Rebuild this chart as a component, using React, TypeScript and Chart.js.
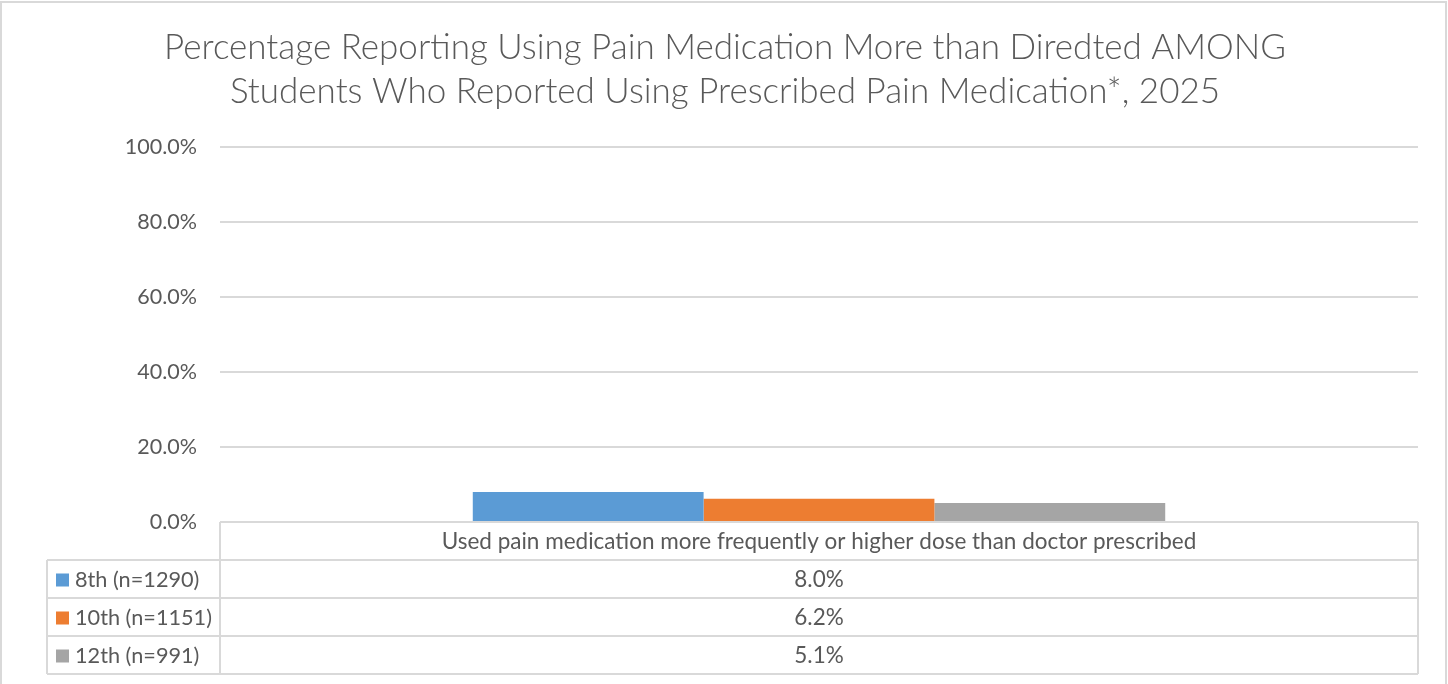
import React, { useEffect, useRef } from "react";
import { Chart, registerables } from "chart.js";

Chart.register(...registerables);

const titleLines = [
  "Percentage Reporting Using Pain Medication More than Diredted AMONG",
  "Students Who Reported Using Prescribed Pain Medication*, 2025",
];
const categories = ["Used pain medication more frequently or higher dose than doctor prescribed"];
const seriesLabels = ["8th (n=1290)", "10th (n=1151)", "12th (n=991)"];
const grade8 = [8.0];
const grade10 = [6.2];
const grade12 = [5.1];
const seriesColors = ["#5B9BD5", "#ED7D31", "#A5A5A5"];
const yTicks = [0, 20, 40, 60, 80, 100];

const FONT = "Lato, 'Open Sans', sans-serif";
const TEXT = "#595959";
const LINE = "#D9D9D9";

const tablePlugin = {
  id: "excelTable",
  afterDraw(chart: any) {
    const { ctx, chartArea } = chart;
    const left = chartArea.left;
    const right = chartArea.right;
    const top = chartArea.bottom;
    const rowH = 38;
    const labelLeft = 47;
    ctx.save();
    // title
    ctx.fillStyle = TEXT;
    ctx.font = `300 35px ${FONT}`;
    ctx.textAlign = "center";
    ctx.textBaseline = "alphabetic";
    const cx = 725;
    ctx.fillText(titleLines[0], cx, 59);
    ctx.fillText(titleLines[1], cx, 103);

    // table lines
    ctx.strokeStyle = LINE;
    ctx.lineWidth = 2;
    ctx.beginPath();
    for (let r = 1; r <= 4; r++) {
      const y = top + r * rowH;
      ctx.moveTo(labelLeft, y);
      ctx.lineTo(right, y);
    }
    ctx.moveTo(left, top);
    ctx.lineTo(left, top + 4 * rowH);
    ctx.moveTo(right, top);
    ctx.lineTo(right, top + 4 * rowH);
    ctx.moveTo(labelLeft, top + rowH);
    ctx.lineTo(labelLeft, top + 4 * rowH);
    ctx.stroke();

    // header
    const xScale = chart.scales.x;
    ctx.font = `22.5px ${FONT}`;
    ctx.fillStyle = TEXT;
    ctx.textBaseline = "middle";
    ctx.textAlign = "center";
    categories.forEach((c, i) => {
      const x = xScale.getPixelForValue(i);
      ctx.fillText(c, x, top + rowH / 2 + 1);
    });
    const values = [grade8, grade10, grade12];
    seriesLabels.forEach((lab, s) => {
      const yMid = top + rowH * (s + 1) + rowH / 2 + 1;
      ctx.fillStyle = seriesColors[s];
      ctx.fillRect(56, yMid - 6.5, 13, 13);
      ctx.fillStyle = TEXT;
      ctx.textAlign = "left";
      ctx.font = `21.7px ${FONT}`;
      ctx.fillText(lab, 75, yMid);
      ctx.textAlign = "center";
      ctx.font = `22.5px ${FONT}`;
      values[s].forEach((v, i) => {
        ctx.fillText(v.toFixed(1) + "%", xScale.getPixelForValue(i), yMid);
      });
    });

    // outer border
    ctx.strokeStyle = LINE;
    ctx.lineWidth = 2;
    ctx.strokeRect(1, 2, chart.width - 3, chart.height + 10);
    ctx.restore();
  },
};

export default function App() {
  const ref = useRef<HTMLCanvasElement>(null);
  useEffect(() => {
    document.body.style.margin = "0";
    const chart = new Chart(ref.current!, {
      type: "bar",
      data: {
        labels: categories,
        datasets: [
          { label: seriesLabels[0], data: grade8, backgroundColor: seriesColors[0] },
          { label: seriesLabels[1], data: grade10, backgroundColor: seriesColors[1] },
          { label: seriesLabels[2], data: grade12, backgroundColor: seriesColors[2] },
        ],
      },
      options: {
        animation: false,
        responsive: false,
        maintainAspectRatio: false,
        layout: { padding: { left: 0, right: 30, top: 147, bottom: 162 } },
        plugins: { legend: { display: false }, title: { display: false }, tooltip: { enabled: false } },
        datasets: { bar: { barPercentage: 1, categoryPercentage: 0.578 } },
        scales: {
          x: { display: false, grid: { display: false } },
          y: {
            min: 0,
            max: 100,
            afterFit: (s: any) => {
              s.width = 220;
            },
            afterBuildTicks: (s: any) => {
              s.ticks = yTicks.map((v) => ({ value: v }));
            },
            border: { display: false },
            grid: { color: LINE, lineWidth: 2, drawTicks: false },
            ticks: {
              color: TEXT,
              padding: 23,
              font: { family: FONT, size: 21.5 },
              callback: (v: any) => Number(v).toFixed(1) + "%",
            },
          },
        },
      },
      plugins: [tablePlugin],
    });
    return () => chart.destroy();
  }, []);
  return (
    <div style={{ width: 1448, height: 684 }}>
      <canvas ref={ref} width={1448} height={684} style={{ display: "block" }} />
    </div>
  );
}
